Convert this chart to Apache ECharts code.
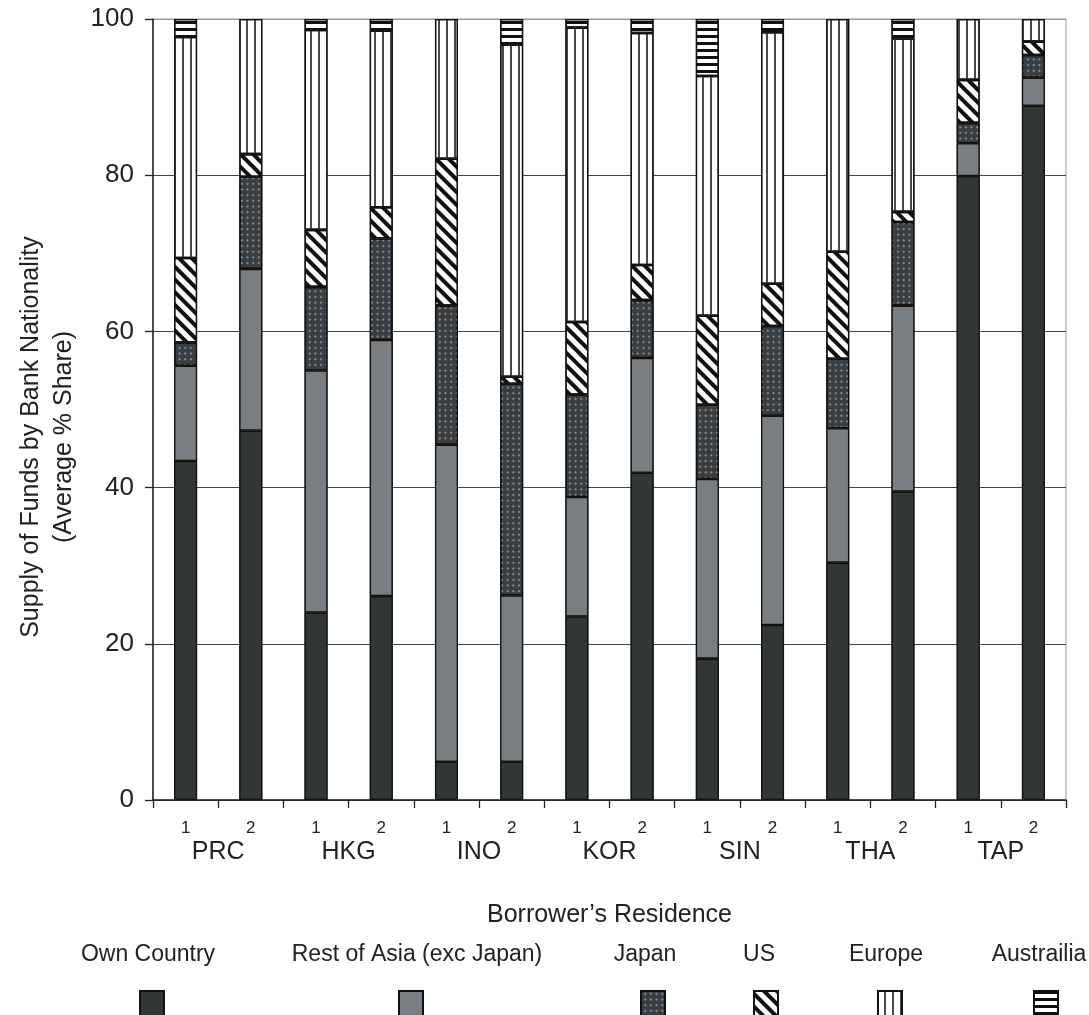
<!DOCTYPE html>
<html>
<head>
<meta charset="utf-8">
<script src="https://cdn.jsdelivr.net/npm/echarts@6/dist/echarts.min.js"></script>
<style>
html,body{margin:0;padding:0;background:#fff;}
#main{width:1089px;height:1015px;}
</style>
</head>
<body>
<div id="main"></div>
<script>
// ---- data ----
var countries = ['PRC', 'HKG', 'INO', 'KOR', 'SIN', 'THA', 'TAP'];
var periods = ['1', '2'];
var yTicks = [0, 20, 40, 60, 80, 100];
var seriesNames = ['Own Country', 'Rest of Asia (exc Japan)', 'Japan', 'US', 'Europe', 'Austrailia'];
var ownCountry = [43.4, 47.3, 24.0, 26.1, 4.9, 4.9, 23.5, 41.9, 18.1, 22.4, 30.4, 39.5, 79.9, 88.9];
var restOfAsia = [12.2, 20.7, 31.0, 32.8, 40.6, 21.3, 15.3, 14.7, 23.0, 26.8, 17.2, 23.8, 4.2, 3.6];
var japan      = [3.0, 11.8, 10.7, 13.0, 17.8, 27.1, 13.1, 7.4, 9.5, 11.5, 8.9, 10.7, 2.6, 2.9];
var us         = [10.8, 2.9, 7.3, 4.0, 18.8, 0.9, 9.3, 4.5, 11.4, 5.4, 13.7, 1.3, 5.5, 1.7];
var europe     = [28.3, 17.3, 25.6, 22.6, 17.9, 42.5, 37.7, 29.7, 30.7, 32.2, 29.8, 22.2, 7.8, 2.9];
var australia  = [2.3, 0, 1.4, 1.5, 0, 3.3, 1.1, 1.8, 7.3, 1.7, 0, 2.5, 0, 0];

// ---- build ----
var FONT = "'Liberation Sans', Arial, Helvetica, sans-serif";
var categories = [];
countries.forEach(function (c) { periods.forEach(function (p) { categories.push(c + ' ' + p); }); });

var values = [ownCountry, restOfAsia, japan, us, europe, australia];
function solidDecal(c) { return { symbol: 'rect', color: c, symbolSize: 1, dashArrayX: [1, 0], dashArrayY: [1, 0] }; }
var styles = [
  { color: '#323636', decal: solidDecal('#323636') },
  { color: '#7b7e80', decal: solidDecal('#7b7e80') },
  { color: '#3b3e40', decal: { symbol: 'circle', color: '#e4e4e4', symbolSize: 0.8,
      dashArrayX: [[1.6, 5.2], [0, 3.4, 1.6, 1.8]], dashArrayY: [1.6, 1.8] } },
  { color: '#ffffff', decal: { symbol: 'rect', color: '#111111', symbolSize: 1,
      dashArrayX: [1, 0], dashArrayY: [3.8, 4.2], rotation: Math.PI / 4 } },
  { color: '#ffffff', decal: { symbol: 'rect', color: '#4a4a4a', symbolSize: 1,
      dashArrayX: [1, 0], dashArrayY: [1.6, 5.2], rotation: Math.PI / 2 } },
  { color: '#ffffff', decal: { symbol: 'rect', color: '#111111', symbolSize: 1,
      dashArrayX: [1, 0], dashArrayY: [3, 4] } }
];

var series = seriesNames.map(function (name, i) {
  return {
    name: name,
    type: 'bar',
    stack: 'total',
    barWidth: 23,
    xAxisIndex: 0,
    yAxisIndex: 0,
    itemStyle: { color: styles[i].color, decal: styles[i].decal, borderColor: '#111', borderWidth: 1.3 },
    emphasis: { disabled: true },
    data: values[i].map(function (v) { return v === 0 ? '-' : v; })
  };
});

// legend icons (labels drawn above them as text)
var legendIconCenters = [146, 405, 647, 760, 884, 1040];
var legendLabelCenters = [148, 417, 645, 759, 886, 1039];
var legends = seriesNames.map(function (name, i) {
  return {
    data: [name],
    left: legendIconCenters[i] - 12,
    top: 985,
    itemWidth: 24,
    itemHeight: 28,
    icon: 'rect',
    selectedMode: false,
    formatter: function () { return ''; },
    textStyle: { fontSize: 1 }
  };
});
var graphics = seriesNames.map(function (name, i) {
  return {
    type: 'text',
    x: legendLabelCenters[i],
    y: 955,
    style: { text: name, font: '23px ' + FONT, fill: '#222', textAlign: 'center', textVerticalAlign: 'middle' }
  };
});
graphics.push({
  type: 'text',
  x: 48,
  y: 437,
  rotation: Math.PI / 2,
  style: {
    text: 'Supply of Funds by Bank Nationality\n(Average % Share)',
    font: '25px ' + FONT, fill: '#222', textAlign: 'center', textVerticalAlign: 'middle', lineHeight: 33
  }
});

var option = {
  animation: false,
  backgroundColor: '#ffffff',
  aria: { enabled: true, decal: { show: true } },
  grid: { left: 153, right: 23, top: 19, bottom: 215, show: true, borderColor: '#999', borderWidth: 1,
          containLabel: false, outerBoundsMode: 'none' },
  legend: legends,
  graphic: graphics,
  xAxis: [
    {
      type: 'category',
      data: categories,
      axisLine: { lineStyle: { color: '#222', width: 1.5 } },
      axisTick: { show: true, length: 8, lineStyle: { color: '#222', width: 1.3 } },
      axisLabel: {
        margin: 20, fontSize: 17, color: '#222', fontFamily: FONT, interval: 0,
        formatter: function (v) { return v.split(' ')[1]; }
      },
      splitLine: { show: false }
    },
    {
      type: 'category',
      position: 'bottom',
      data: countries,
      axisLine: { show: false },
      axisTick: { show: false },
      axisLabel: { margin: 40, fontSize: 25, color: '#222', fontFamily: FONT, interval: 0 },
      splitLine: { show: false },
      name: 'Borrower\u2019s Residence',
      nameLocation: 'middle',
      nameGap: 103,
      nameTextStyle: { fontSize: 25, color: '#222', fontFamily: FONT }
    }
  ],
  yAxis: {
    type: 'value',
    min: yTicks[0],
    max: yTicks[yTicks.length - 1],
    interval: 20,
    axisLine: { show: true, lineStyle: { color: '#222', width: 1.5 } },
    axisTick: { show: true, length: 8, lineStyle: { color: '#222', width: 1.3 } },
    axisLabel: { margin: 19, fontSize: 26, color: '#222', fontFamily: FONT },
    splitLine: { show: true, lineStyle: { color: ['#444', '#444', '#444', '#444', '#444', '#999'], width: 1.2 } }
  },
  series: series
};

var chart = echarts.init(document.getElementById('main'), null, { renderer: 'canvas' });
chart.setOption(option);
</script>
</body>
</html>
